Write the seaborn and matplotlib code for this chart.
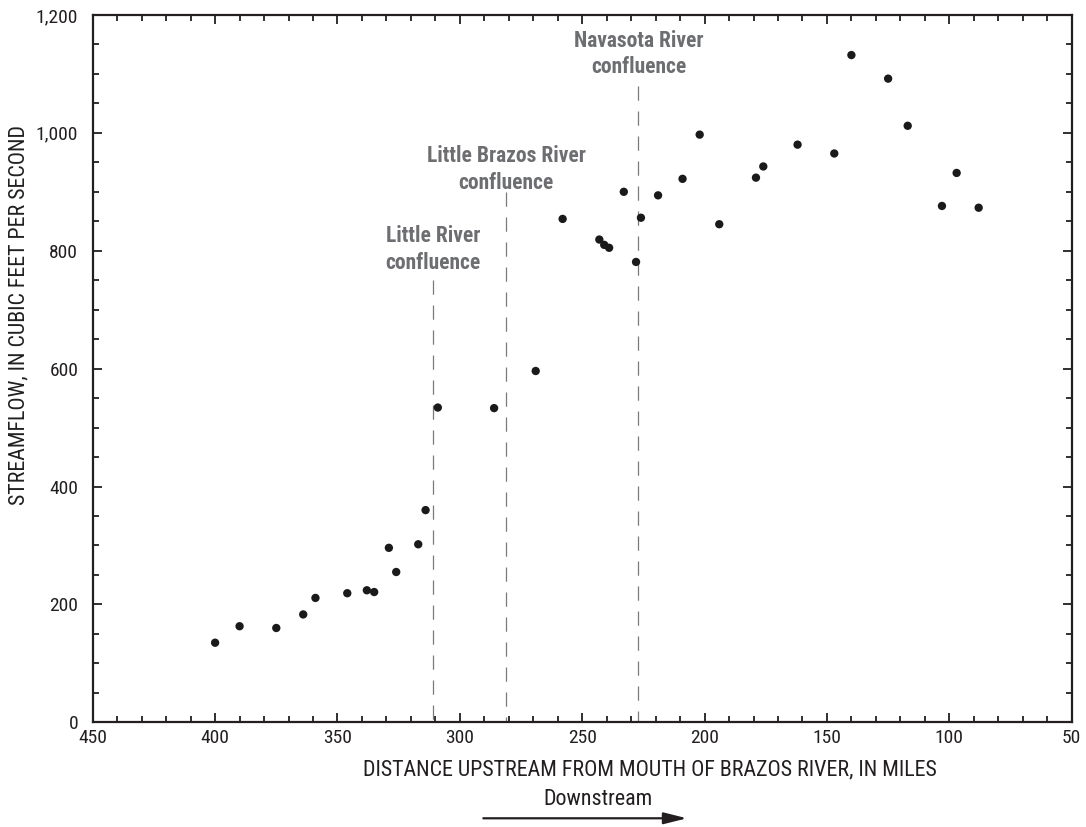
import matplotlib
matplotlib.use("Agg")
import matplotlib.pyplot as plt
from matplotlib import font_manager as fm
from matplotlib.ticker import MultipleLocator, FuncFormatter
import seaborn as sns
import pandas as pd

# ---------------- data ----------------
distance_mi = [400, 390, 375, 364, 359, 346, 338, 335, 329, 326, 317, 314, 309,
               286, 269, 258, 243, 241, 239, 233, 228, 226, 219, 209, 202, 194,
               179, 176, 162, 147, 140, 125, 117, 103, 97, 88]
streamflow_cfs = [135, 163, 160, 183, 211, 219, 224, 221, 296, 255, 302, 360, 534,
                  533, 596, 854, 819, 810, 805, 900, 781, 856, 894, 922, 997, 845,
                  924, 943, 980, 965, 1132, 1092, 1012, 876, 932, 873]

confluence_names = ["Little River\nconfluence",
                    "Little Brazos River\nconfluence",
                    "Navasota River\nconfluence"]
confluence_mi = [311, 281, 227]
confluence_line_top = [750, 900, 1080]
confluence_label_y = [802, 938, 1134]

x_ticks = [450, 400, 350, 300, 250, 200, 150, 100, 50]
y_ticks = [0, 200, 400, 600, 800, 1000, 1200]

df = pd.DataFrame({"distance": distance_mi, "flow": streamflow_cfs})

# ---------------- style ----------------
sns.set_style("ticks")
avail = {f.name for f in fm.fontManager.ttflist}
COND = next((f for f in ["Liberation Sans Narrow", "Roboto Condensed",
                         "Open Sans Condensed", "Liberation Sans"] if f in avail),
            "DejaVu Sans")
plt.rcParams["font.family"] = [COND, "DejaVu Sans"]

INK = "#231f20"
GRAY = "#6d6e71"

fig = plt.figure(figsize=(10.86, 8.27), dpi=100)
ax = fig.add_axes([0.0854, 0.1266, 0.9014, 0.8553])

sns.scatterplot(data=df, x="distance", y="flow", ax=ax, s=36,
                color="#1a1a1a", edgecolor="none", linewidth=0, zorder=3)

# confluence dashed lines (drawn top-down so dash phase starts at top)
ax.vlines(confluence_mi, confluence_line_top, [0] * len(confluence_mi),
          colors="#7a7a7a", linewidth=0.9, linestyles=(0, (11.4, 8.6)), zorder=2)
for name, xm, yl in zip(confluence_names, confluence_mi, confluence_label_y):
    ax.text(xm, yl, name, ha="center", va="center", fontsize=15.5,
            fontweight="bold", color=GRAY, linespacing=1.25, zorder=4)

# axes limits / ticks
ax.set_xlim(450, 50)
ax.set_ylim(0, 1200)
ax.set_xticks(x_ticks)
ax.set_yticks(y_ticks)
ax.xaxis.set_minor_locator(MultipleLocator(10))
ax.yaxis.set_minor_locator(MultipleLocator(50))
ax.yaxis.set_major_formatter(FuncFormatter(lambda v, p: f"{int(v):,}"))

for s in ax.spines.values():
    s.set_visible(True)
    s.set_linewidth(1.6)
    s.set_color(INK)

ax.tick_params(which="both", direction="in", top=True, right=True,
               color=INK, width=1.3)
ax.tick_params(which="major", length=6.5, labelsize=14, labelcolor=INK)
ax.tick_params(axis="x", which="major", pad=4.5)
ax.tick_params(axis="y", which="major", pad=10.5)
ax.tick_params(which="minor", length=4)

ax.set_xlabel("DISTANCE UPSTREAM FROM MOUTH OF BRAZOS RIVER, IN MILES",
              fontsize=15.8, color=INK, va="center")
ax.xaxis.set_label_coords(0.569, -0.0669)
ax.set_ylabel("STREAMFLOW, IN CUBIC FEET PER SECOND",
              fontsize=15.8, color=INK, va="center")
ax.yaxis.set_label_coords(-0.0753, 0.576)

# downstream arrow
ax.text(0.516, -0.1087, "Downstream", transform=ax.transAxes, ha="center",
        va="center", fontsize=15.8, color=INK)
ax.annotate("", xy=(0.607, -0.1357), xytext=(0.399, -0.1357),
            xycoords="axes fraction", textcoords="axes fraction",
            arrowprops=dict(arrowstyle="-|>,head_length=1.4,head_width=0.35",
                            color=INK, lw=1.6, shrinkA=0, shrinkB=0),
            annotation_clip=False)

fig.savefig("out.png", dpi=100)
